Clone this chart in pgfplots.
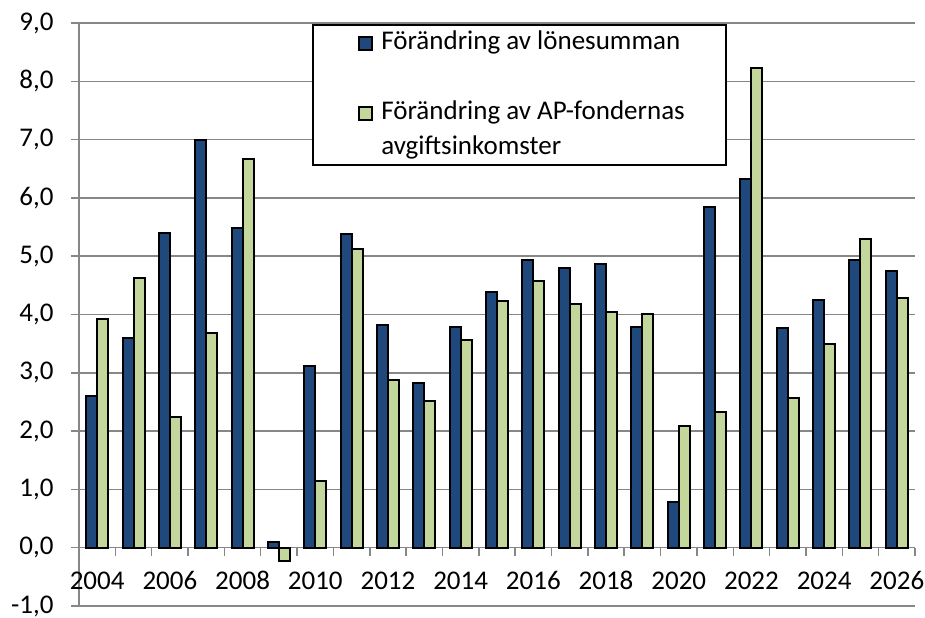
\documentclass[border=0pt]{standalone}
\usepackage{fontspec}
\setmainfont{Carlito}
\usepackage{pgfplots}
\usepackage{pgfplotstable}
\pgfplotsset{compat=1.18}
\definecolor{barblue}{HTML}{1F497D}
\definecolor{bargreen}{HTML}{C3D69B}
\definecolor{gridgray}{HTML}{878787}

% idx, year, change in wage sum, change in AP fund contribution income
\pgfplotstableread{
idx year lon avg
0  2004 2.60  3.93
1  2005 3.60  4.63
2  2006 5.40  2.25
3  2007 7.00  3.68
4  2008 5.49  6.67
5  2009 0.09 -0.23
6  2010 3.12  1.15
7  2011 5.38  5.12
8  2012 3.82  2.87
9  2013 2.83  2.52
10 2014 3.79  3.57
11 2015 4.39  4.23
12 2016 4.94  4.57
13 2017 4.79  4.18
14 2018 4.87  4.04
15 2019 3.79  4.01
16 2020 0.79  2.09
17 2021 5.84  2.32
18 2022 6.33  8.23
19 2023 3.77  2.56
20 2024 4.25  3.49
21 2025 4.94  5.30
22 2026 4.74  4.28
}\data

\begin{document}
\fontsize{13.5}{16}\selectfont
\begin{tikzpicture}
\path[use as bounding box] (0,0) rectangle (462.5pt,308.5pt);
\begin{axis}[
  at={(39.5pt,5.5pt)}, anchor=south west,
  width=418pt, height=291.5pt, scale only axis,
  ybar, bar width=5.5pt,
  xmin=-0.5, xmax=22.5, ymin=-1, ymax=9,
  axis x line*=middle, axis y line*=left,
  hide obscured x ticks=false, hide obscured y ticks=false,
  axis line style={gridgray, line width=0.75pt},
  xtick={0.5,1.5,...,22.5}, xticklabels={},
  extra x ticks={0,2,...,22},
  extra x tick labels={2004,2006,2008,2010,2012,2014,2016,2018,2020,2022,2024,2026},
  extra x tick style={major tick length=0pt, grid=none},
  x tick label style={anchor=base, inner sep=0pt, yshift=-21pt},
  ytick={-1,0,...,9},
  ymajorgrids, grid style={gridgray, line width=0.75pt},
  tick align=outside, major tick length=4pt,
  tick style={gridgray, line width=0.75pt},
  /pgf/number format/assume math mode=true,
  y tick label style={/pgf/number format/fixed, /pgf/number format/fixed zerofill,
    /pgf/number format/precision=1, /pgf/number format/use comma,
    anchor=east, inner sep=0pt, xshift=-8.5pt},
  legend image code/.code={\draw[#1, line width=1pt] (0pt,-3.25pt) rectangle (6.5pt,3.25pt);},
  legend style={draw=none, fill=none, at={(rel axis cs:0.3337,0.9957)}, anchor=north west,
    inner sep=0pt, row sep=0pt, column sep=4pt,
    nodes={inner sep=0pt, text height=12pt, text depth=5.5pt}},
  legend cell align=left,
]
\addplot[fill=barblue, draw=black, line width=1pt, bar shift=-2.75pt] table[x=idx, y=lon] {\data};
\addlegendentry{Förändring av lönesumman}
\addlegendimage{empty legend}
\addlegendentry{\phantom{X}}
\addplot[fill=bargreen, draw=black, line width=1pt, bar shift=2.75pt] table[x=idx, y=avg] {\data};
\addlegendentry{Förändring av AP-fondernas}
\addlegendimage{empty legend}
\addlegendentry{avgiftsinkomster}
\draw[black, line width=1pt, fill=white] (rel axis cs:0.2799,0.9966) rectangle (rel axis cs:0.7739,0.7564);
\end{axis}
\end{tikzpicture}
\end{document}
